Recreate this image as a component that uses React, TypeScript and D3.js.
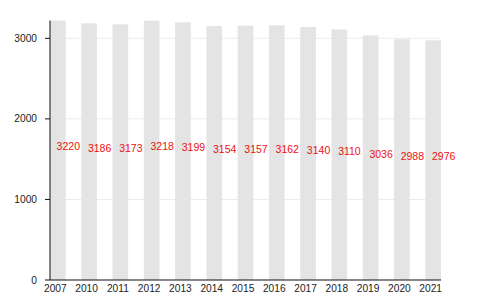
import React from "react";
import * as d3 from "d3";

const years = ["2007", "2010", "2011", "2012", "2013", "2014", "2015", "2016", "2017", "2018", "2019", "2020", "2021"];
const values = [3220, 3186, 3173, 3218, 3199, 3154, 3157, 3162, 3140, 3110, 3036, 2988, 2976];
const yTicks = [0, 1000, 2000, 3000];

const W = 480;
const H = 300;
const left = 50;
const right = 441;
const bottom = 280;
const top = 20.6;
const font = "'Liberation Sans', Arial, sans-serif";

export default function App() {
  const x = d3.scaleBand<string>().domain(years).range([left, right]).paddingInner(0.5).paddingOuter(0);
  const y = d3.scaleLinear().domain([0, 3220]).range([bottom, top]);
  return (
    <svg width={W} height={H} style={{ position: "absolute", left: 0, top: 0 }}>
      <rect x={0} y={0} width={W} height={H} fill="#fff" />
      {yTicks.filter((t) => t > 0).map((t) => (
        <line key={"g" + t} x1={left} x2={right} y1={y(t)} y2={y(t)} stroke="#ebebeb" strokeWidth={1} />
      ))}
      {years.map((yr, i) => (
        <rect key={yr} x={x(yr)} y={y(values[i])} width={x.bandwidth()} height={bottom - y(values[i])} fill="#e4e4e4" />
      ))}
      {years.map((yr, i) => (
        <text
          key={"v" + yr}
          x={(x(yr) as number) + x.bandwidth() / 2 - 1.2}
          y={y(values[i] / 2)}
          fill="#ee1111"
          fontFamily={font}
          fontSize={10.5}
          textAnchor="start"
        >
          {values[i]}
        </text>
      ))}
      <line x1={left} x2={left} y1={top} y2={bottom} stroke="#111" strokeWidth={1} />
      <line x1={left} x2={right} y1={bottom} y2={bottom} stroke="#111" strokeWidth={1.2} />
      {yTicks.map((t) => (
        <g key={"t" + t}>
          <line x1={left - 5} x2={left} y1={y(t)} y2={y(t)} stroke="#111" strokeWidth={1} />
          <text x={left - 13} y={y(t)} dy="0.35em" textAnchor="end" fontFamily={font} fontSize={10.2} fill="#222">
            {t}
          </text>
        </g>
      ))}
      {years.map((yr) => (
        <text
          key={"x" + yr}
          x={(x(yr) as number) + x.bandwidth() / 2 - 2.5}
          y={291.7}
          textAnchor="middle"
          fontFamily={font}
          fontSize={10.2}
          fill="#222"
        >
          {yr}
        </text>
      ))}
    </svg>
  );
}
